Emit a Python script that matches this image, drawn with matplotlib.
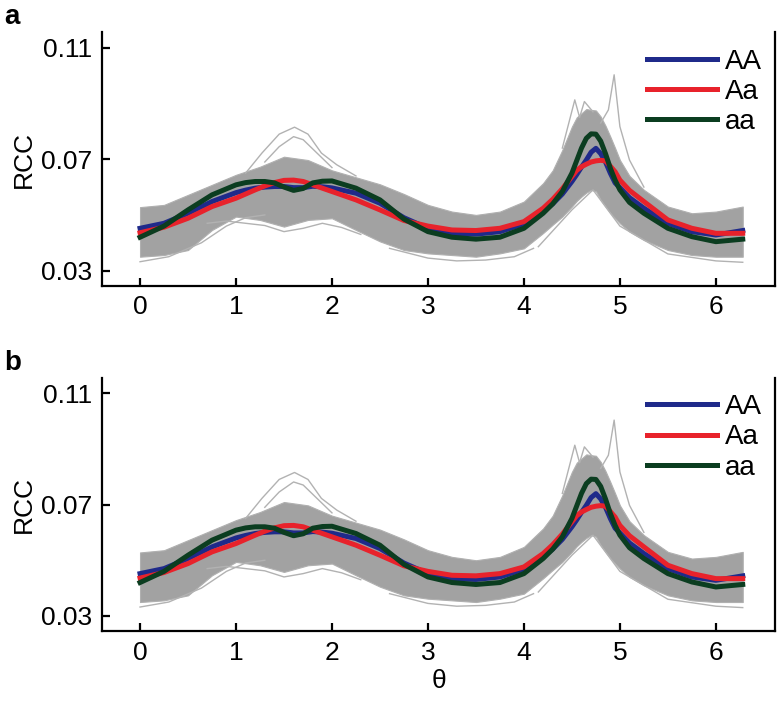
import numpy as np
import matplotlib
matplotlib.use("Agg")
import matplotlib.pyplot as plt

plt.rcParams['font.family'] = ['Liberation Sans', 'DejaVu Sans']

# mean curves
theta_mean = [0, 0.25, 0.5, 0.75, 1.0, 1.1, 1.2, 1.3, 1.4, 1.5, 1.6, 1.7, 1.8, 1.9,
              2.0, 2.25, 2.5, 2.75, 3.0, 3.25, 3.5, 3.75, 4.0, 4.2, 4.3, 4.4, 4.5,
              4.55, 4.6, 4.65, 4.7, 4.75, 4.8, 4.85, 4.9, 4.95, 5.0, 5.1, 5.25, 5.5,
              5.75, 6.0, 6.28]
rcc_AA = [0.0452, 0.0470, 0.0506, 0.0548, 0.0580, 0.0589, 0.0596, 0.0600, 0.0602,
          0.0602, 0.0598, 0.0598, 0.0603, 0.0601, 0.0597, 0.0578, 0.0542, 0.0490,
          0.0452, 0.0434, 0.0431, 0.0440, 0.0468, 0.0512, 0.0540, 0.0575, 0.0620,
          0.0645, 0.0672, 0.0697, 0.0725, 0.0739, 0.0720, 0.0690, 0.0650, 0.0615,
          0.0598, 0.0562, 0.0524, 0.0470, 0.0440, 0.0428, 0.0444]
rcc_Aa = [0.0436, 0.0456, 0.0488, 0.0530, 0.0560, 0.0575, 0.0590, 0.0604, 0.0616,
          0.0624, 0.0625, 0.0620, 0.0608, 0.0596, 0.0584, 0.0554, 0.0518, 0.0480,
          0.0460, 0.0446, 0.0444, 0.0452, 0.0476, 0.0524, 0.0556, 0.0594, 0.0638,
          0.0660, 0.0673, 0.0682, 0.0690, 0.0694, 0.0696, 0.0694, 0.0675, 0.0655,
          0.0625, 0.0588, 0.0548, 0.0482, 0.0452, 0.0434, 0.0434]
rcc_aa = [0.0420, 0.0460, 0.0518, 0.0572, 0.0608, 0.0616, 0.0620, 0.0620, 0.0615,
          0.0600, 0.0588, 0.0595, 0.0615, 0.0621, 0.0622, 0.0596, 0.0554, 0.0485,
          0.0440, 0.0420, 0.0413, 0.0420, 0.0452, 0.0506, 0.0540, 0.0584, 0.0650,
          0.0695, 0.0740, 0.0775, 0.0791, 0.0790, 0.0765, 0.0720, 0.0668, 0.0625,
          0.0590, 0.0545, 0.0506, 0.0452, 0.0422, 0.0404, 0.0413]

# grey bundle of individual curves: main envelope
theta_band = [0, 0.25, 0.5, 0.75, 1.0, 1.25, 1.5, 1.75, 2.0, 2.25, 2.5, 2.75, 3.0,
              3.25, 3.5, 3.75, 4.0, 4.2, 4.3, 4.4, 4.5, 4.55, 4.6, 4.65, 4.7, 4.75,
              4.8, 4.85, 4.9, 4.95, 5.0, 5.1, 5.25, 5.5, 5.75, 6.0, 6.28]
band_hi = [0.0528, 0.0536, 0.0572, 0.0608, 0.0644, 0.0673, 0.0709, 0.0697, 0.0660,
           0.0635, 0.0610, 0.0575, 0.0536, 0.0512, 0.0500, 0.0512, 0.0548, 0.0614,
           0.0660, 0.0733, 0.0817, 0.0850, 0.0865, 0.0880, 0.0877, 0.0875, 0.0853,
           0.0820, 0.0781, 0.0740, 0.0697, 0.0640, 0.0590, 0.0530, 0.0506, 0.0512,
           0.0530]
band_lo = [0.0350, 0.0356, 0.0374, 0.0446, 0.0494, 0.0482, 0.0458, 0.0482, 0.0488,
           0.0446, 0.0405, 0.0374, 0.0362, 0.0356, 0.0350, 0.0362, 0.0380, 0.0435,
           0.0465, 0.0494, 0.0530, 0.0550, 0.0566, 0.0580, 0.0590, 0.0585, 0.0554,
           0.0530, 0.0507, 0.0488, 0.0470, 0.0440, 0.0410, 0.0374, 0.0356, 0.0350,
           0.0350]

# single stray curves outside the bundle
stray_theta = [
    [1.1, 1.27, 1.45, 1.61, 1.75, 1.89, 2.05, 2.25],
    [1.3, 1.45, 1.6, 1.7, 1.85, 2.0],
    [0, 0.3, 0.64, 0.9, 1.1, 1.3],
    [0.7, 0.9, 1.1, 1.3, 1.5, 1.7, 1.9, 2.1, 2.3],
    [2.6, 3.0, 3.3, 3.6, 3.9, 4.1],
    [4.15, 4.5, 4.72, 5.0, 5.5, 6.0, 6.28],
    [4.8, 4.88, 4.94, 5.0, 5.1, 5.25],
    [4.4, 4.53, 4.58, 4.63, 4.72],
]
stray_rcc = [
    [0.0650, 0.0722, 0.0790, 0.0815, 0.0790, 0.0722, 0.0680, 0.0640],
    [0.0690, 0.0745, 0.0781, 0.0770, 0.0720, 0.0670],
    [0.0332, 0.0350, 0.0400, 0.0460, 0.0490, 0.0500],
    [0.0470, 0.0478, 0.0470, 0.0462, 0.0440, 0.0452, 0.0470, 0.0455, 0.0430],
    [0.0380, 0.0345, 0.0335, 0.0338, 0.0350, 0.0380],
    [0.0386, 0.0518, 0.0590, 0.0460, 0.0360, 0.0335, 0.0330],
    [0.0830, 0.0877, 0.1003, 0.0817, 0.0697, 0.0600],
    [0.0740, 0.0913, 0.0850, 0.0907, 0.0870],
]

labels = ['AA', 'Aa', 'aa']
colors = ['#1f2a8a', '#e8222b', '#0b3d20']

fig = plt.figure(figsize=(7.77, 7.04), dpi=100)
ax_a = fig.add_axes([0.1313, 0.5942, 0.866, 0.3597])
ax_b = fig.add_axes([0.1313, 0.1037, 0.866, 0.3597])

for ax, tag in [(ax_a, 'a'), (ax_b, 'b')]:
    ax.fill_between(theta_band, band_lo, band_hi, color='#a2a2a2', lw=0.8,
                    edgecolor='#b0b0b0')
    for th, rc in zip(stray_theta, stray_rcc):
        ax.plot(th, rc, color='#b2b2b2', lw=1.0)
    for vals, lab, c in zip([rcc_AA, rcc_Aa, rcc_aa], labels, colors):
        ax.plot(theta_mean, vals, color=c, lw=3.6, label=lab,
                solid_joinstyle='round')

    ax.set_xlim(-0.396, 6.615)
    ax.set_ylim(0.0246, 0.1155)
    ax.set_xticks([0, 1, 2, 3, 4, 5, 6])
    ax.set_yticks([0.03, 0.07, 0.11])
    ax.set_yticklabels(['0.03', '0.07', '0.11'])
    ax.spines['top'].set_visible(False)
    for s in ['left', 'bottom', 'right']:
        ax.spines[s].set_linewidth(1.6)
    ax.yaxis.set_ticks_position('left')
    ax.xaxis.set_ticks_position('bottom')
    ax.tick_params(direction='in', length=6, width=1.6, labelsize=19, pad=7)
    ax.set_ylabel('RCC', fontsize=19, labelpad=4)
    ax.legend(loc='upper left', bbox_to_anchor=(0.79, 0.99), frameon=False,
              fontsize=20, handlelength=2.5, handletextpad=0.3,
              labelspacing=0.15, borderpad=0)
    ax.text(-0.145, 1.06, tag, transform=ax.transAxes, fontsize=20,
            fontweight='bold', va='center', ha='left')

ax_b.set_xlabel('θ', fontsize=19, labelpad=3)

fig.savefig('out.png', dpi=100)
